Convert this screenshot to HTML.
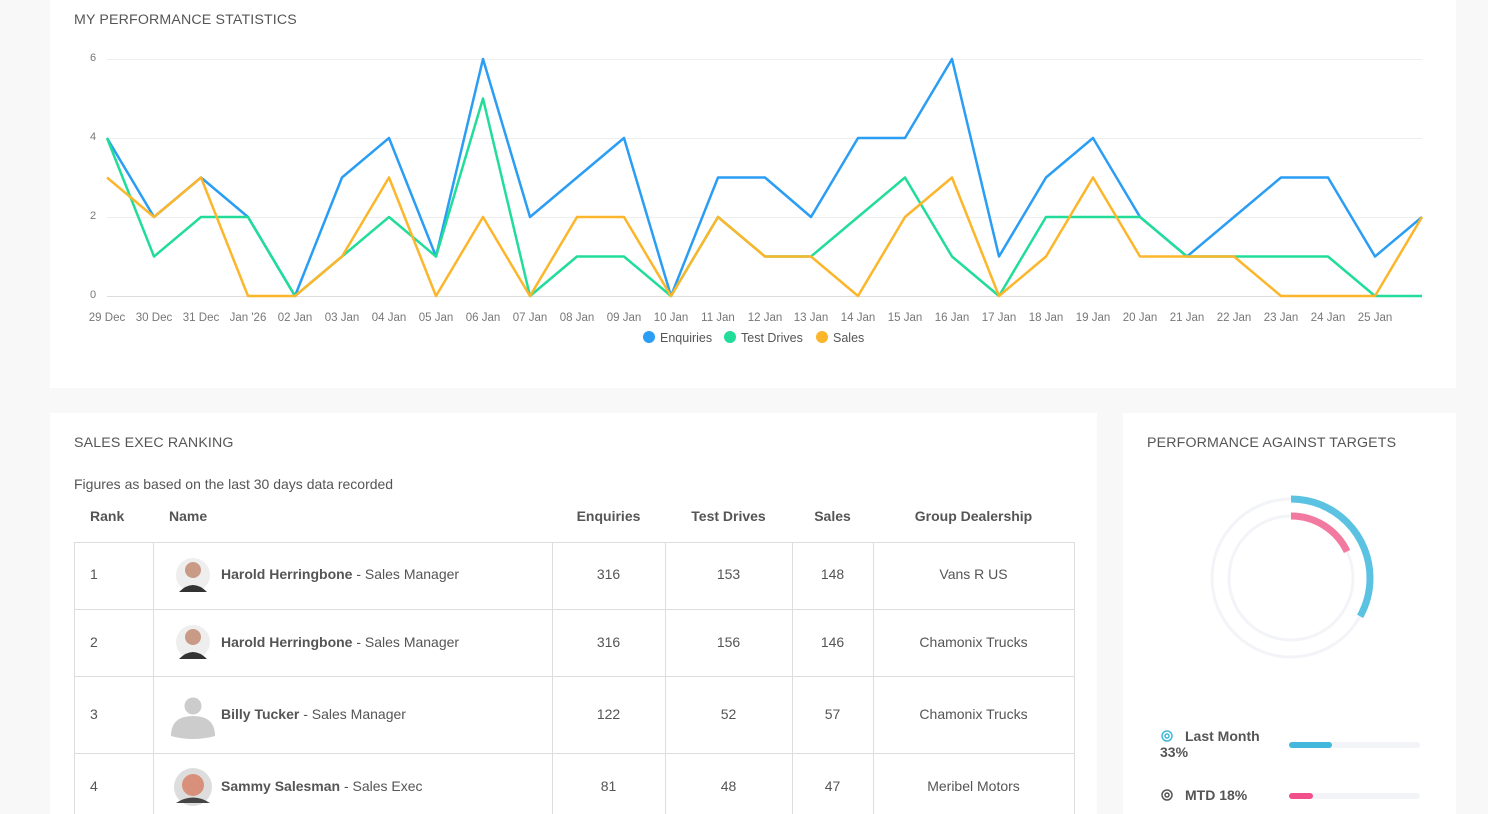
<!DOCTYPE html>
<html><head><meta charset="utf-8"><style>
*{box-sizing:border-box;margin:0;padding:0}
body{width:1488px;height:814px;background:#f8f8f8;font-family:"Liberation Sans",sans-serif;color:#555;position:relative;overflow:hidden}
.card{position:absolute;background:#fff}
h3{position:absolute;font-size:14.2px;font-weight:normal;color:#555;letter-spacing:.15px}
.t{position:absolute;font-size:14px;color:#555;white-space:nowrap}
.c{text-align:center}
.b{font-weight:bold}
</style></head><body>
<div class="card" style="left:50px;top:0;width:1406px;height:388px"></div>
<h3 style="left:74px;top:12px">MY PERFORMANCE STATISTICS</h3>
<svg style="position:absolute;left:0;top:0" width="1488" height="360">
<g stroke="#eee" stroke-width="1">
<line x1="107" x2="1422" y1="59.5" y2="59.5"/><line x1="107" x2="1422" y1="138.5" y2="138.5"/><line x1="107" x2="1422" y1="217.5" y2="217.5"/><line x1="107" x2="1422" y1="296.5" y2="296.5" stroke="#ddd"/>
</g>
<g font-size="11" fill="#777" font-family="Liberation Sans">
<text x="90" y="61">6</text><text x="90" y="140">4</text><text x="90" y="219">2</text><text x="90" y="298">0</text>
</g>
<g font-size="11.5" fill="#777" font-family="Liberation Sans" text-anchor="middle">
<text x="107" y="321">29 Dec</text><text x="154" y="321">30 Dec</text><text x="201" y="321">31 Dec</text><text x="248" y="321">Jan '26</text><text x="295" y="321">02 Jan</text><text x="342" y="321">03 Jan</text><text x="389" y="321">04 Jan</text><text x="436" y="321">05 Jan</text><text x="483" y="321">06 Jan</text><text x="530" y="321">07 Jan</text><text x="577" y="321">08 Jan</text><text x="624" y="321">09 Jan</text><text x="671" y="321">10 Jan</text><text x="718" y="321">11 Jan</text><text x="765" y="321">12 Jan</text><text x="811" y="321">13 Jan</text><text x="858" y="321">14 Jan</text><text x="905" y="321">15 Jan</text><text x="952" y="321">16 Jan</text><text x="999" y="321">17 Jan</text><text x="1046" y="321">18 Jan</text><text x="1093" y="321">19 Jan</text><text x="1140" y="321">20 Jan</text><text x="1187" y="321">21 Jan</text><text x="1234" y="321">22 Jan</text><text x="1281" y="321">23 Jan</text><text x="1328" y="321">24 Jan</text><text x="1375" y="321">25 Jan</text>
</g>
<g transform="translate(0,296) scale(1,-39.5)" fill="none" stroke-width="2.5" stroke-linejoin="round">
<polyline vector-effect="non-scaling-stroke" stroke="#2a9df4" points="107,4 154,2 201,3 248,2 295,0 342,3 389,4 436,1 483,6 530,2 577,3 624,4 671,0 718,3 765,3 811,2 858,4 905,4 952,6 999,1 1046,3 1093,4 1140,2 1187,1 1234,2 1281,3 1328,3 1375,1 1422,2"/>
<polyline vector-effect="non-scaling-stroke" stroke="#22dd9a" points="107,4 154,1 201,2 248,2 295,0 342,1 389,2 436,1 483,5 530,0 577,1 624,1 671,0 718,2 765,1 811,1 858,2 905,3 952,1 999,0 1046,2 1093,2 1140,2 1187,1 1234,1 1281,1 1328,1 1375,0 1422,0"/>
<polyline vector-effect="non-scaling-stroke" stroke="#fbb62b" points="107,3 154,2 201,3 248,0 295,0 342,1 389,3 436,0 483,2 530,0 577,2 624,2 671,0 718,2 765,1 811,1 858,0 905,2 952,3 999,0 1046,1 1093,3 1140,1 1187,1 1234,1 1281,0 1328,0 1375,0 1422,2"/>
</g>
<g font-size="12.5" fill="#555" font-family="Liberation Sans">
<circle cx="649" cy="337" r="6" fill="#2a9df4"/><text x="660" y="342">Enquiries</text>
<circle cx="730" cy="337" r="6" fill="#22dd9a"/><text x="741" y="342">Test Drives</text>
<circle cx="822" cy="337" r="6" fill="#fbb62b"/><text x="833" y="342">Sales</text>
</g>
</svg>

<div class="card" style="left:50px;top:413px;width:1047px;height:401px"></div>
<h3 style="left:74px;top:435px">SALES EXEC RANKING</h3>
<div class="t" style="left:74px;top:476px">Figures as based on the last 30 days data recorded</div>
<div class="t b" style="left:90px;top:508px">Rank</div>
<div class="t b" style="left:169px;top:508px">Name</div>
<div class="t b c" style="left:552px;top:508px;width:113px">Enquiries</div>
<div class="t b c" style="left:665px;top:508px;width:127px">Test Drives</div>
<div class="t b c" style="left:792px;top:508px;width:81px">Sales</div>
<div class="t b c" style="left:873px;top:508px;width:201px">Group Dealership</div>
<svg style="position:absolute;left:0;top:0" width="1488" height="814">
<g stroke="#ddd" stroke-width="1" fill="none">
<rect x="74.5" y="542.5" width="1000" height="300"/>
<line x1="74" x2="1075" y1="609.5" y2="609.5"/><line x1="74" x2="1075" y1="676.5" y2="676.5"/><line x1="74" x2="1075" y1="753.5" y2="753.5"/>
<line x1="153.5" x2="153.5" y1="542" y2="814"/><line x1="552.5" x2="552.5" y1="542" y2="814"/><line x1="665.5" x2="665.5" y1="542" y2="814"/><line x1="792.5" x2="792.5" y1="542" y2="814"/><line x1="873.5" x2="873.5" y1="542" y2="814"/>
</g>
<g>
<circle cx="193" cy="575" r="17" fill="#eee"/><circle cx="193" cy="570" r="8" fill="#c99a85"/><path d="M179 592 Q193 578 207 592Z" fill="#333"/>
<circle cx="193" cy="642" r="17" fill="#eee"/><circle cx="193" cy="637" r="8" fill="#c99a85"/><path d="M179 659 Q193 645 207 659Z" fill="#333"/>
<circle cx="193" cy="706" r="8.5" fill="#ccc"/><path d="M171 736 Q171 716 193 716 Q215 716 215 736 Q193 742 171 736Z" fill="#ccc"/>
<circle cx="193" cy="787" r="19" fill="#ddd"/><circle cx="193" cy="785" r="11" fill="#d8907a"/><path d="M176 803 Q193 792 210 803Z" fill="#444"/>
</g>
<circle cx="1291" cy="578" r="79" fill="none" stroke="#f3f4f8" stroke-width="3"/>
<circle cx="1291" cy="578" r="62" fill="none" stroke="#f3f4f8" stroke-width="3"/>
<circle cx="1291" cy="578" r="79" fill="none" stroke="#5bc2e2" stroke-width="7" stroke-dasharray="164 1000" transform="rotate(-90 1291 578)"/>
<circle cx="1291" cy="578" r="62" fill="none" stroke="#f27aa0" stroke-width="7" stroke-dasharray="70 1000" transform="rotate(-90 1291 578)"/>
<rect x="1289" y="742" width="131" height="6" rx="3" fill="#f3f4f8"/><rect x="1289" y="742" width="43" height="6" rx="3" fill="#43b8dc"/>
<rect x="1289" y="793" width="131" height="6" rx="3" fill="#f3f4f8"/><rect x="1289" y="793" width="24" height="6" rx="3" fill="#f2508a"/>
<circle cx="1167" cy="736" r="5" fill="none" stroke="#43b8dc" stroke-width="1.5"/><circle cx="1167" cy="736" r="2" fill="none" stroke="#43b8dc" stroke-width="1.5"/>
<circle cx="1167" cy="795" r="5" fill="none" stroke="#555" stroke-width="1.5"/><circle cx="1167" cy="795" r="2" fill="none" stroke="#555" stroke-width="1.5"/>
</svg>
<div class="t" style="left:90px;top:566px">1</div>
<div class="t" style="left:221px;top:566px"><b>Harold Herringbone</b> - Sales Manager</div>
<div class="t c" style="left:552px;top:566px;width:113px">316</div><div class="t c" style="left:665px;top:566px;width:127px">153</div><div class="t c" style="left:792px;top:566px;width:81px">148</div><div class="t c" style="left:873px;top:566px;width:201px">Vans R US</div>
<div class="t" style="left:90px;top:634px">2</div>
<div class="t" style="left:221px;top:634px"><b>Harold Herringbone</b> - Sales Manager</div>
<div class="t c" style="left:552px;top:634px;width:113px">316</div><div class="t c" style="left:665px;top:634px;width:127px">156</div><div class="t c" style="left:792px;top:634px;width:81px">146</div><div class="t c" style="left:873px;top:634px;width:201px">Chamonix Trucks</div>
<div class="t" style="left:90px;top:706px">3</div>
<div class="t" style="left:221px;top:706px"><b>Billy Tucker</b> - Sales Manager</div>
<div class="t c" style="left:552px;top:706px;width:113px">122</div><div class="t c" style="left:665px;top:706px;width:127px">52</div><div class="t c" style="left:792px;top:706px;width:81px">57</div><div class="t c" style="left:873px;top:706px;width:201px">Chamonix Trucks</div>
<div class="t" style="left:90px;top:778px">4</div>
<div class="t" style="left:221px;top:778px"><b>Sammy Salesman</b> - Sales Exec</div>
<div class="t c" style="left:552px;top:778px;width:113px">81</div><div class="t c" style="left:665px;top:778px;width:127px">48</div><div class="t c" style="left:792px;top:778px;width:81px">47</div><div class="t c" style="left:873px;top:778px;width:201px">Meribel Motors</div>

<div class="card" style="left:1123px;top:413px;width:333px;height:401px;z-index:-1"></div>
<h3 style="left:1147px;top:435px">PERFORMANCE AGAINST TARGETS</h3>
<div class="t b" style="left:1185px;top:728px">Last Month</div>
<div class="t b" style="left:1160px;top:744px">33%</div>
<div class="t b" style="left:1185px;top:787px">MTD 18%</div>
</body></html>
